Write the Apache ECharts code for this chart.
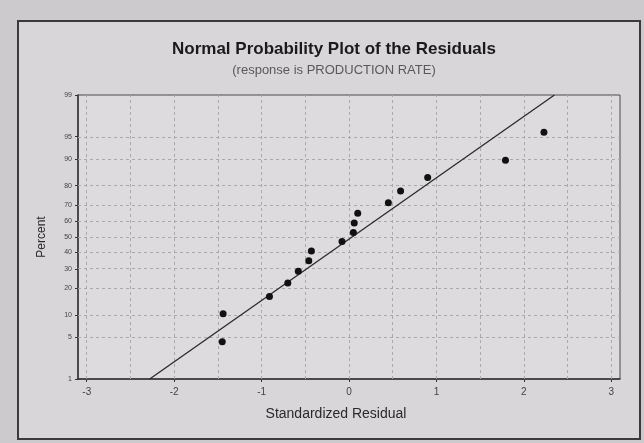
<!DOCTYPE html>
<html>
<head>
<meta charset="utf-8">
<script src="https://cdn.jsdelivr.net/npm/echarts@6/dist/echarts.min.js"></script>
<style>
  html, body { margin: 0; padding: 0; background: #cdcacd; }
  #chart { width: 644px; height: 443px; }
</style>
</head>
<body>
<div id="chart"></div>
<script>
// ---- data ----
const percentTicks = [1, 5, 10, 20, 30, 40, 50, 60, 70, 80, 90, 95, 99];
const residualTicks = [-3, -2, -1, 0, 1, 2, 3];
const residualGridValues = [-3, -2.5, -2, -1.5, -1, -0.5, 0, 0.5, 1, 1.5, 2, 2.5, 3];
const residuals = [-1.45, -1.44, -0.91, -0.70, -0.58, -0.46, -0.43, -0.08, 0.05, 0.06, 0.10, 0.45, 0.59, 0.90, 1.79, 2.23];
const percents  = [4.3, 10.4, 16.5, 22.6, 28.7, 34.8, 40.9, 47.0, 53.0, 59.1, 65.2, 71.3, 77.4, 83.5, 89.6, 95.7];
const fitResidual = [-2.28, 2.35];
const fitPercent = [1, 99];

// inverse standard normal CDF (probability scale)
function invNorm(p) {
  const a = [-3.969683028665376e+01, 2.209460984245205e+02, -2.759285104469687e+02, 1.383577518672690e+02, -3.066479806614716e+01, 2.506628277459239e+00];
  const b = [-5.447609879822406e+01, 1.615858368580409e+02, -1.556989798598866e+02, 6.680131188771972e+01, -1.328068155288572e+01];
  const c = [-7.784894002430293e-03, -3.223964580411365e-01, -2.400758277161838e+00, -2.549732539343734e+00, 4.374664141464968e+00, 2.938163982698783e+00];
  const d = [7.784695709041462e-03, 3.224671290700398e-01, 2.445134137142996e+00, 3.754408661907416e+00];
  const plow = 0.02425, phigh = 1 - plow;
  let q, r;
  if (p < plow) {
    q = Math.sqrt(-2 * Math.log(p));
    return (((((c[0]*q+c[1])*q+c[2])*q+c[3])*q+c[4])*q+c[5]) / ((((d[0]*q+d[1])*q+d[2])*q+d[3])*q+1);
  }
  if (p <= phigh) {
    q = p - 0.5; r = q*q;
    return (((((a[0]*r+a[1])*r+a[2])*r+a[3])*r+a[4])*r+a[5])*q / (((((b[0]*r+b[1])*r+b[2])*r+b[3])*r+b[4])*r+1);
  }
  q = Math.sqrt(-2 * Math.log(1 - p));
  return -(((((c[0]*q+c[1])*q+c[2])*q+c[3])*q+c[4])*q+c[5]) / ((((d[0]*q+d[1])*q+d[2])*q+d[3])*q+1);
}
const toZ = p => invNorm(p / 100);
const zTicks = percentTicks.map(toZ);

const chart = echarts.init(document.getElementById('chart'));
const gridLineStyle = { color: '#aba8ab', type: [3, 3], width: 1 };

chart.setOption({
  backgroundColor: '#cdcacd',
  animation: false,
  graphic: [{
    type: 'rect', z: -10,
    shape: { x: 18, y: 21, width: 622, height: 418 },
    style: { fill: '#d9d6d9', stroke: '#3a3a3a', lineWidth: 2 }
  }],
  title: [{
    text: 'Normal Probability Plot of the Residuals',
    left: 329, top: 36, textAlign: 'center',
    textStyle: { fontFamily: 'Liberation Sans', fontSize: 17, fontWeight: 'bold', color: '#1a1a1a' }
  }, {
    text: '(response is PRODUCTION RATE)',
    left: 329, top: 59, textAlign: 'center',
    textStyle: { fontFamily: 'Liberation Sans', fontSize: 13, fontWeight: 'normal', color: '#5a585a' }
  }],
  grid: {
    left: 78, right: 24, top: 95, bottom: 64,
    show: true, backgroundColor: '#dedbde', borderColor: '#4a4a4a', borderWidth: 1
  },
  xAxis: {
    type: 'value', min: -3.1, max: 3.1,
    name: 'Standardized Residual', nameLocation: 'middle', nameGap: 28,
    nameTextStyle: { fontFamily: 'Liberation Sans', fontSize: 14, color: '#2a2a2a', padding: [0, 26, 0, 0] },
    axisLine: { show: true, onZero: false, lineStyle: { color: '#333', width: 1.5 } },
    axisTick: { show: true, length: 3, customValues: residualTicks, lineStyle: { color: '#333' } },
    axisLabel: { customValues: residualTicks, margin: 8, fontFamily: 'Liberation Sans', fontSize: 10, color: '#444' },
    splitLine: { show: false }
  },
  yAxis: {
    type: 'value', min: toZ(1), max: toZ(99),
    name: 'Percent', nameLocation: 'middle', nameGap: 30,
    nameTextStyle: { fontFamily: 'Liberation Sans', fontSize: 12, color: '#2a2a2a' },
    axisLine: { show: true, onZero: false, lineStyle: { color: '#333', width: 1.5 } },
    axisTick: { show: true, length: 3, customValues: zTicks, lineStyle: { color: '#333' } },
    axisLabel: {
      customValues: zTicks, margin: 6, fontFamily: 'Liberation Sans', fontSize: 7, color: '#444',
      formatter: v => {
        let best = 0;
        zTicks.forEach((z, i) => { if (Math.abs(z - v) < Math.abs(zTicks[best] - v)) best = i; });
        return String(percentTicks[best]);
      }
    },
    splitLine: { show: false }
  },
  series: [{
    type: 'line', data: [], z: 1, silent: true,
    markLine: {
      silent: true, z: 1, symbol: 'none', label: { show: false },
      lineStyle: gridLineStyle,
      data: residualGridValues.map(v => ({ xAxis: v }))
        .concat(percentTicks.slice(1, -1).map(p => ({ yAxis: toZ(p) })))
    }
  }, {
    type: 'line', z: 3, silent: true, symbol: 'none',
    data: fitResidual.map((r, i) => [r, toZ(fitPercent[i])]),
    lineStyle: { color: '#2a2a2a', width: 1.3 }
  }, {
    type: 'scatter', z: 4, symbolSize: 7,
    data: residuals.map((r, i) => [r, toZ(percents[i])]),
    itemStyle: { color: '#111', opacity: 1 }
  }]
});
</script>
</body>
</html>
